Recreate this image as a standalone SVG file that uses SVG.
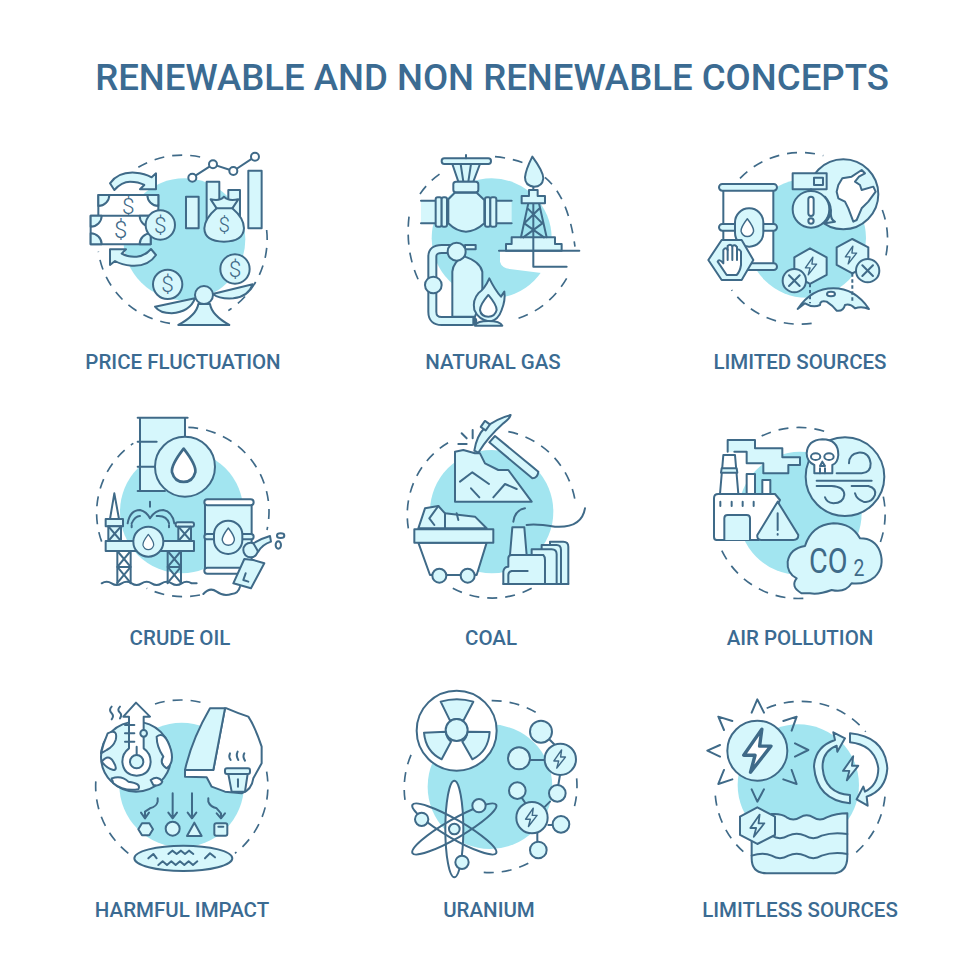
<svg xmlns="http://www.w3.org/2000/svg" width="980" height="980" viewBox="0 0 980 980">
<style>
.t{font-family:Roboto,"Liberation Sans",sans-serif;font-weight:500;fill:#3b6b92;text-anchor:middle}
.ti{font-size:36.6px}
.lb{font-size:20.5px}
.ic *{stroke-linejoin:round;stroke-linecap:round}
.ic{stroke:#3f6a88;stroke-width:6;fill:none}
.b{fill:#a2e5f0;stroke:none}
.l{fill:#d6f7fc}
.w{fill:#fff}
.ic .d{stroke-dasharray:30 24;stroke-width:5;stroke-linecap:butt}
.ds{font-family:Roboto,"Liberation Sans",sans-serif;font-weight:300;fill:#3f6a88;stroke:none;text-anchor:middle}
.co{font-family:Roboto,"Liberation Sans",sans-serif;font-weight:400;fill:#3f6a88;stroke:none}
</style>
<defs>
<path id="bolt" d="M8,-38 L-24,8 H-4 L-12,38 L24,-8 H4 Z"/>
<path id="drop" d="M0,-40 Q28,-4 26,12 Q20,34 0,34 Q-20,34 -26,12 Q-28,-4 0,-40Z"/>
<g id="x"><path d="M-16,-16 L16,16 M16,-16 L-16,16"/></g>
<g id="brace"><path d="M0,0 L40,48 M40,0 L0,48 M0,48 L40,96 M40,48 L0,96 M0,48 H40"/></g>
</defs>
<text class="t ti" x="492" y="90">RENEWABLE AND NON RENEWABLE CONCEPTS</text>

<g id="price-fluctuation" class="ic" transform="translate(80 140) scale(.3333)">
<circle class="b" cx="313" cy="298" r="183"/>
<path class="d" d="M175,82 A255,255 0 0 1 380,56 M560,270 A255,255 0 0 1 445,512 M270,550 A255,255 0 0 1 55,335"/>
<path class="l" d="M90,130 Q115,95 165,98 Q195,100 215,112 L228,100 V148 H180 L193,135 Q175,125 150,125 Q125,125 103,150Z"/>
<path class="l" d="M228,345 Q205,380 155,377 Q125,375 105,363 L90,375 V328 H138 L125,341 Q145,352 170,350 Q195,348 213,327Z"/>
<rect class="w" x="55" y="165" width="180" height="75"/>
<path class="l" d="M55,165 H88 A33,33 0 0 1 55,198Z M235,165 H202 A33,33 0 0 0 235,198Z"/>
<text class="ds" x="145" y="222" font-size="68">$</text>
<rect class="w" x="32" y="227" width="180" height="86"/>
<path class="l" d="M32,227 H65 A33,33 0 0 1 32,260Z M212,227 H179 A33,33 0 0 0 212,260Z M32,313 H65 A33,33 0 0 0 32,280Z M212,313 H179 A33,33 0 0 1 212,280Z"/>
<text class="ds" x="122" y="294" font-size="72">$</text>
<circle class="l" cx="241" cy="255" r="44"/><text class="ds" x="241" y="279" font-size="68">$</text>
<path d="M337,113 L399,73 L460,93 L525,50"/>
<circle class="w" cx="337" cy="113" r="12"/><circle class="w" cx="399" cy="73" r="12"/><circle class="w" cx="460" cy="93" r="12"/><circle class="w" cx="525" cy="50" r="12"/>
<rect class="l" x="318" y="170" width="38" height="95"/>
<rect class="l" x="380" y="125" width="38" height="130"/>
<rect class="l" x="445" y="150" width="35" height="80"/>
<rect class="l" x="505" y="92" width="40" height="173"/>
<path class="l" d="M410,205 L392,178 Q420,185 432,170 Q445,185 475,178 L457,205 Q492,235 492,265 Q490,305 432,305 Q374,305 373,265 Q375,235 410,205Z"/>
<path d="M410,205 H457"/>
<text class="ds" x="433" y="277" font-size="62">$</text>
<circle class="l" cx="465" cy="387" r="44"/><text class="ds" x="465" y="411" font-size="68">$</text>
<circle class="l" cx="263" cy="433" r="44"/><text class="ds" x="263" y="457" font-size="68">$</text>
<path class="l" d="M225,500 L345,475 Q330,515 275,520 Q240,520 225,500Z"/>
<path class="l" d="M398,462 L518,433 Q505,470 460,475 Q420,478 398,462Z"/>
<path class="l" d="M295,555 Q350,525 355,492 H390 Q395,525 448,555Z"/>
<circle class="l" cx="372" cy="465" r="27"/>
</g>

<g id="natural-gas" class="ic" transform="translate(395 140) scale(.3333)">
<circle class="b" cx="290" cy="295" r="180"/>
<path fill="#fff" stroke="none" d="M315,332 V365 Q320,385 350,388 L445,400 L480,400 V332Z"/>
<path class="d" d="M75,162 Q100,125 140,98 M300,50 Q350,55 390,70 M450,112 Q520,170 540,320 M515,415 Q460,510 355,540 M42,230 Q30,340 75,430"/>
<rect class="l" x="78" y="182" width="50" height="68" stroke="none"/>
<rect class="l" x="300" y="182" width="50" height="68" stroke="none"/>
<path d="M78,182 H125 M78,250 H125 M300,182 H350 M300,250 H350"/>
<path class="l" d="M172,72 L190,125 H235 L255,72Z"/>
<path d="M197,72 L205,125 M228,72 L220,125"/>
<rect class="l" x="140" y="55" width="148" height="17" rx="8"/>
<path d="M213,45 V55"/>
<path class="l" d="M160,178 L180,158 H245 L268,180 V250 Q240,275 213,275 Q185,275 160,250Z"/>
<rect class="l" x="175" y="125" width="75" height="32" rx="8"/>
<rect class="l" x="122" y="172" width="18" height="88" rx="6"/><rect class="l" x="140" y="172" width="16" height="88" rx="6"/>
<rect class="l" x="270" y="172" width="16" height="88" rx="6"/><rect class="l" x="286" y="172" width="18" height="88" rx="6"/>
<path class="l" d="M333,332 V312 H350 V292 H480 V312 H500 V332Z"/>
<path d="M312,332 H553 M415,140 V380 H515 M400,190 L378,292 M432,190 L455,292 M398,205 L442,250 L385,292 M434,205 L388,250 L447,292"/>
<path class="l" d="M380,168 H402 V150 H428 V168 H450 V190 H380Z"/>
<path class="l" d="M412,50 Q445,95 445,115 Q442,140 417,140 Q390,138 390,112 Q392,90 412,50Z"/>
<path d="M112,515 V350 Q112,327 140,327 H170 M232,543 H140 Q112,543 112,515" stroke-width="30"/>
<path d="M112,515 V350 Q112,327 140,327 H170 M232,543 H140 Q112,543 112,515" stroke="#d6f7fc" stroke-width="18" style="stroke-linecap:butt"/>
<path class="l" d="M172,530 V395 Q175,365 205,350 V328 H242 V315 H210 V350 Q255,365 262,395 V470 L240,530Z"/>
<circle class="l" cx="115" cy="435" r="25"/><circle class="l" cx="185" cy="335" r="27"/>
<path class="l" d="M283,415 Q300,450 318,470 L328,455 Q332,480 320,510 Q310,540 285,545 Q250,540 238,510 Q232,480 250,460 Q270,445 283,415Z"/>
<path class="w" d="M280,465 Q305,495 305,510 Q300,530 280,530 Q258,530 255,510 Q255,495 280,465Z"/>
<path class="l" d="M240,557 Q245,543 280,543 Q315,543 322,557Z"/>
</g>

<g id="limited-sources" class="ic" transform="translate(705 140) scale(.3333)">
<circle class="b" cx="305" cy="295" r="178"/>
<path class="d" d="M105,115 A253,253 0 0 1 355,47 M532,210 A253,253 0 0 1 540,360 M320,550 A253,253 0 0 1 80,450"/>
<rect class="w" x="55" y="150" width="150" height="235"/>
<rect class="l" x="42" y="132" width="174" height="20" rx="10"/>
<rect class="l" x="42" y="252" width="174" height="20" rx="10"/>
<rect class="l" x="42" y="370" width="174" height="20" rx="10"/>
<rect class="l" x="90" y="205" width="85" height="115" rx="42"/>
<use href="#drop" class="w" transform="translate(127 265) scale(.72)"/>
<path class="l" d="M10,360 L50,300 H110 L145,360 L110,420 H50Z"/>
<path class="w" d="M65,405 L38,365 Q42,355 55,370 V330 Q62,320 68,330 V318 Q75,310 82,318 V318 Q90,312 96,322 V330 Q103,325 108,335 V375 Q105,395 95,405Z"/>
<path d="M68,330 V360 M82,318 V360 M96,322 V360"/>
<circle class="l" cx="415" cy="163" r="105"/>
<path class="w" d="M400,135 L412,115 L440,110 L470,90 L480,100 L462,110 L450,125 L465,135 L470,150 L505,140 L512,155 L490,185 L470,205 L455,240 L445,245 L430,205 L420,185 L400,175 L395,155Z"/>
<rect class="l" x="263" y="100" width="102" height="48"/><rect class="l" x="327" y="113" width="27" height="22"/>
<path d="M318,148 V155"/>
<path class="l" d="M360,170 Q395,210 360,250 L390,245 Q375,240 378,210Z"/>
<circle class="l" cx="318" cy="208" r="55"/>
<rect class="w" x="310" y="170" width="16" height="58" rx="8"/><circle class="w" cx="318" cy="243" r="8"/>
<path class="l" d="M315,325 L365,352 V405 L315,432 L268,405 V352Z"/>
<use href="#bolt" transform="translate(318 378) scale(.7)"/>
<circle class="l" cx="268" cy="422" r="35"/><use href="#x" transform="translate(268 422)"/>
<path class="l" d="M442,297 L490,322 V375 L442,400 L395,375 V322Z"/>
<use href="#bolt" transform="translate(438 345) scale(.7)"/>
<circle class="l" cx="488" cy="392" r="35"/><use href="#x" transform="translate(488 392)"/>
<path class="l" d="M278,507 Q320,445 385,445 Q450,445 492,507 Q470,497 450,505 Q435,490 420,495 Q415,515 395,512 Q385,498 365,485 Q345,480 345,495 Q325,505 300,490Z"/>
<ellipse class="w" cx="378" cy="462" rx="12" ry="7"/>
<path d="M315,432 V490 M442,400 V490" stroke-dasharray="10 8" style="stroke-linecap:butt"/>
</g>

<g id="crude-oil" class="ic" transform="translate(85 410) scale(.3333)">
<circle class="b" cx="290" cy="305" r="185"/>
<path class="d" d="M310,52 A253,253 0 0 1 546,360 M50,395 A253,253 0 0 1 145,100 M345,555 A253,253 0 0 1 185,535"/>
<rect class="l" x="165" y="25" width="135" height="218" stroke="none"/>
<path d="M165,25 V243 M300,25 V100 M158,23 H308 M158,95 H215 M158,170 H215 M158,243 H240"/>
<circle class="l" cx="300" cy="170" r="90"/>
<use href="#drop" class="w" transform="translate(296 170) scale(1.35)"/>
<rect class="l" x="360" y="285" width="140" height="190"/>
<rect class="w" x="358" y="268" width="148" height="18" rx="9"/>
<rect class="w" x="358" y="473" width="148" height="18" rx="9"/>
<rect class="l" x="358" y="372" width="148" height="16" rx="8"/>
<rect class="l" x="387" y="332" width="85" height="100" rx="42"/>
<use href="#drop" class="w" transform="translate(430 382) scale(.7)"/>
<path class="w" d="M88,250 L75,327 H102Z"/>
<rect class="l" x="62" y="327" width="52" height="22"/>
<rect class="l" x="70" y="349" width="38" height="44"/><path d="M70,349 L108,393 M108,349 L70,393"/>
<rect class="l" x="272" y="337" width="55" height="13" rx="6"/>
<rect class="l" x="280" y="350" width="38" height="43"/><path d="M280,350 L318,393 M318,350 L280,393"/>
<use href="#brace" transform="translate(97 423)"/><path d="M97,423 V520 M137,423 V520 M248,423 V520 M288,423 V520"/>
<use href="#brace" transform="translate(248 423)"/>
<rect class="l" x="62" y="393" width="265" height="30"/>
<circle class="l" cx="190" cy="395" r="45"/><use href="#drop" class="w" transform="translate(190 398) scale(.62)"/>
<path d="M128,340 Q135,300 165,300 Q185,305 195,325 M140,340 Q150,318 165,318 M195,325 Q210,300 235,300 Q262,305 268,340 M215,318 Q245,315 252,340 M195,275 V290 M140,345 V352 M252,345 V352"/>
<path d="M50,520 Q65,510 80,520 T110,520 T140,520 T170,520 T200,520 T230,520 T260,520 T290,520 T320,520 L335,520"/>
<path d="M355,552 Q375,530 395,545 T440,552 Q460,550 465,530"/>
<path class="l" d="M445,520 L478,447 L505,450 L538,460 L498,535Z"/>
<path d="M482,490 L475,510 L490,515"/>
<circle class="l" cx="497" cy="420" r="22"/>
<path class="l" d="M505,400 Q530,385 555,378 L558,395 Q530,405 520,425Z"/>
<ellipse cx="587" cy="377" rx="11" ry="7"/><ellipse cx="580" cy="405" rx="8" ry="11"/>
</g>

<g id="coal" class="ic" transform="translate(395 410) scale(.3333)">
<circle class="b" cx="290" cy="305" r="185"/>
<path class="d" d="M340,65 A252,252 0 0 1 540,270 M40,355 A252,252 0 0 1 165,95 M410,535 A252,252 0 0 1 165,530"/>
<path class="l" d="M180,125 L205,120 L240,130 L255,130 L270,160 L310,180 L340,180 L410,275 H180Z"/>
<path d="M195,215 L232,187 L282,222 M228,235 L253,262 M295,262 L330,222 L365,237"/>
<path d="M200,70 L215,85 M233,60 V85 M190,102 H215"/>
<path class="l" d="M300,78 L430,185 Q428,205 412,205 L283,97Z"/>
<path class="l" d="M238,122 Q245,78 268,55 Q305,25 347,15 Q345,25 325,40 Q280,80 250,128Z"/>
<rect class="l" x="262" y="36" width="18" height="22" transform="rotate(35 271 47)"/>
<path class="w" d="M70,398 L105,495 H245 L275,398Z"/>
<path class="l" d="M70,355 L90,295 L130,288 L150,310 L240,320 L275,355Z"/>
<path d="M150,310 V355 M130,288 L103,325 L118,345 M185,310 L190,330"/>
<rect class="l" x="58" y="358" width="237" height="40"/>
<circle class="l" cx="133" cy="497" r="21"/><circle class="l" cx="218" cy="497" r="21"/>
<path class="l" d="M345,435 L352,352 H388 L395,435Z"/>
<path d="M355,335 Q360,300 390,295 M395,345 Q420,340 480,350 Q560,355 570,295"/>
<path class="l" d="M465,522 V395 H505 Q520,395 520,410 V522Z"/>
<path class="l" d="M440,522 V405 H485 Q498,405 498,420 V522Z"/>
<path class="l" d="M410,522 V418 H470 Q485,418 485,433 V522Z"/>
<path class="l" d="M325,522 V485 Q327,470 340,470 V445 Q340,435 350,435 H445 Q450,440 450,450 V522Z"/>
<path d="M340,522 V495 Q340,485 350,483 H398 M325,522 H520"/>
</g>

<g id="air-pollution" class="ic" transform="translate(705 420) scale(.3333)">
<circle class="b" cx="285" cy="280" r="185"/>
<path class="d" d="M170,48 A255,255 0 0 1 375,40 M535,230 A255,255 0 0 1 525,370 M295,535 A255,255 0 0 1 45,380"/>
<path class="l" d="M68,95 V60 H150 V85 H232 V112 H285 V135 H250 V160 H175 V130 H125 V95 H88"/>
<path class="w" d="M45,222 L55,105 H90 L100,222Z"/>
<path class="l" d="M50,145 H95 L97,158 H48Z"/>
<rect class="w" x="125" y="162" width="25" height="60"/>
<rect class="w" x="172" y="180" width="24" height="42"/>
<path class="w" d="M40,222 H210 L225,240 L160,360 H35 Q27,360 27,350 V235 Q27,222 40,222Z"/>
<path d="M46,245 V258 M80,245 V258 M113,245 V258 M146,245 V258"/>
<path class="l" d="M58,360 V295 Q58,285 68,285 H125 Q135,285 135,295 V360"/>
<path class="l" d="M218,245 L280,345 Q280,360 265,360 H170 Q155,360 157,345Z"/>
<path d="M218,280 V330 M218,342 V344"/>
<circle class="l" cx="420" cy="170" r="118"/>
<path class="w" d="M352,58 Q400,58 400,105 Q398,130 382,135 V160 H328 V135 Q305,125 305,100 Q308,60 352,58Z"/>
<ellipse cx="332" cy="110" rx="14" ry="10" class="w"/><ellipse cx="372" cy="110" rx="14" ry="10" class="w"/>
<path d="M352,125 L345,138 H360Z M345,145 V160 M360,145 V160"/>
<path d="M395,160 H470 Q498,158 497,130 Q492,95 460,98 Q432,102 432,130 M335,182 H500 M335,198 H380 Q418,200 418,225 Q415,250 385,250 Q365,248 360,232 M440,198 H490 Q515,205 510,225 Q500,250 475,245 Q455,238 450,220"/>
<path class="l" d="M290,520 Q255,500 275,475 Q245,460 248,425 Q255,385 300,378 Q320,315 385,310 Q440,310 465,355 Q510,355 525,395 Q540,440 510,470 Q480,495 440,490 Q420,520 380,510 Q340,525 315,520Z"/>
<text class="co" transform="translate(312 460) scale(.83 1)" font-size="104">CO<tspan dx="22" dy="7" font-size="70">2</tspan></text>
</g>

<g id="harmful-impact" class="ic" transform="translate(85 690) scale(.3333)">
<circle class="b" cx="290" cy="285" r="187"/>
<path class="d" d="M210,42 A255,255 0 0 1 365,42 M545,245 A255,255 0 0 1 450,490 M130,490 A255,255 0 0 1 35,250"/>
<circle class="l" cx="153" cy="200" r="105"/>
<path class="w" d="M68,130 Q100,115 92,150 Q85,170 65,180 L48,190 Q55,160 68,130Z M215,140 Q240,120 258,180 Q268,220 245,235 Q222,220 235,200 Q215,170 215,140Z M50,215 Q70,190 85,215 Q100,240 85,240 Q65,235 50,215Z M80,265 Q110,255 130,275 Q170,280 160,298 Q115,305 85,280Z M197,270 Q220,255 232,275 Q225,290 205,285Z"/>
<path class="w" d="M132,80 H115 L153,38 L195,80 H176 V175 Q197,190 197,215 Q195,255 155,257 Q115,255 112,215 Q112,190 132,175Z"/>
<circle class="l" cx="155" cy="215" r="20"/>
<path d="M155,170 V195 M120,105 H148 M120,130 H148 M120,155 H148"/>
<circle class="l" cx="176" cy="130" r="10"/>
<path d="M80,50 Q70,60 80,70 Q88,78 80,88 M105,50 Q95,60 105,68 Q112,75 105,85"/>
<path class="w" d="M425,55 Q460,70 490,80 Q510,110 530,170 V220 L505,265 Q500,300 470,310 L420,305 L380,290 L365,262 L300,260 L300,240 L385,240 L420,55Z"/>
<path class="l" d="M375,55 H420 L385,240 H300 Q320,150 375,55Z"/>
<path d="M435,190 Q430,200 437,210 M458,185 Q452,197 460,210 M478,190 Q472,200 480,212"/>
<rect class="l" x="420" y="235" width="75" height="17" rx="6"/>
<path class="l" d="M430,252 L440,305 H480 L488,252Z"/>
<path d="M459,268 V290"/>
<path d="M218,325 V335 Q215,350 195,355 L180,365 V385 M168,368 L180,385 L192,368 M263,310 V385 M250,368 L263,385 L276,368 M321,310 V385 M308,368 L321,385 L334,368 M370,325 V335 Q375,350 395,355 L408,370 V385 M395,370 L408,385 L420,370"/>
<path class="l" d="M160,418 L171,400 H193 L204,418 L193,436 H171Z"/>
<circle class="l" cx="263" cy="416" r="21"/>
<path class="l" d="M328,398 L350,438 H306Z"/>
<rect class="l" x="388" y="400" width="39" height="37" rx="6"/><path d="M400,410 H415"/>
<ellipse class="l" cx="295" cy="505" rx="147" ry="38"/>
<path d="M190,505 L205,492 L215,505 M250,492 L262,482 L275,492 L288,482 L300,492 L312,482 L325,492 M220,525 L233,514 L246,525 L259,514 L272,525 L285,514 L298,525 L311,514 L324,525 L337,514 M360,505 L375,490 L390,502"/>
</g>

<g id="uranium" class="ic" transform="translate(395 690) scale(.3333)">
<circle class="b" cx="285" cy="290" r="187"/>
<path class="d" d="M290,32 A255,255 0 0 1 435,75 M545,265 A255,255 0 0 1 537,355 M400,520 A255,255 0 0 1 245,545 M30,330 A255,255 0 0 1 55,180"/>
<circle class="w" cx="185" cy="122" r="120"/>
<path class="l" d="M137,35 Q185,20 235,35 L205,92 Q185,82 165,92Z"/>
<path class="l" d="M87,128 L152,125 Q155,145 168,155 L140,208 Q92,185 87,128Z"/>
<path class="l" d="M284,126 L218,125 Q215,145 202,155 L232,208 Q280,185 284,126Z"/>
<circle class="l" cx="185" cy="120" r="33"/>
<ellipse class="w" cx="178" cy="417" rx="27" ry="145"/>
<ellipse cx="178" cy="417" rx="145" ry="28" transform="rotate(30 178 417)"/>
<ellipse cx="178" cy="417" rx="145" ry="28" transform="rotate(-30 178 417)"/>
<circle class="l" cx="178" cy="417" r="16"/>
<circle class="l" cx="80" cy="388" r="20"/><circle class="l" cx="252" cy="347" r="20"/><circle class="l" cx="201" cy="517" r="20"/>
<path d="M465,150 L480,165 M405,210 H450 M495,255 L490,285 M378,320 L395,345 M465,335 L450,350 M460,405 H475 M427,430 V455"/>
<circle class="l" cx="438" cy="125" r="33"/><circle class="l" cx="372" cy="205" r="33"/>
<circle class="l" cx="496" cy="208" r="47"/><use href="#bolt" transform="translate(494 207) scale(.72)"/>
<circle class="l" cx="487" cy="310" r="25"/><circle class="l" cx="367" cy="302" r="25"/>
<circle class="l" cx="411" cy="383" r="47"/><use href="#bolt" transform="translate(409 382) scale(.72)"/>
<circle class="l" cx="498" cy="403" r="25"/><circle class="l" cx="430" cy="480" r="25"/>
</g>

<g id="limitless-sources" class="ic" transform="translate(700 690) scale(.3333)">
<circle class="b" cx="295" cy="285" r="182"/>
<path class="d" d="M200,55 A255,255 0 0 1 497,125 M555,320 A255,255 0 0 1 465,490 M130,485 A255,255 0 0 1 45,300"/>
<circle class="l" cx="172" cy="182" r="90"/>
<use href="#bolt" transform="translate(172 182) scale(1.7)" class="w"/>
<path d="M155,68 L172,28 L192,68 M55,80 L97,93 M55,80 L72,120 M250,93 L290,80 L275,122 M60,165 L22,182 L60,200 M285,160 L325,180 L285,200 M72,240 L55,282 L97,268 M250,268 L290,282 L275,240 M155,298 L172,335 L192,298"/>
<path class="l" d="M450,340 Q350,330 342,230 Q345,170 405,150 L400,127 L435,145 L412,185 L410,167 Q365,185 368,235 Q375,310 450,315Z"/>
<path class="l" d="M450,130 Q555,140 562,235 Q558,300 500,320 L503,347 L470,328 L490,290 L495,305 Q535,285 535,235 Q525,165 450,157Z"/>
<use href="#bolt" transform="translate(452 235) scale(.95)" class="l"/>
<path class="l" d="M155,430 V505 Q155,550 200,550 H395 Q442,550 442,500 V370 Q410,370 380,382 Q360,395 340,382 Q320,370 300,382 Q280,395 260,382 Q245,370 215,372 V430Z"/>
<path d="M155,437 Q190,425 215,437 Q240,452 265,437 Q290,425 315,437 Q340,452 365,437 Q400,425 442,432 M155,497 Q190,485 215,497 Q240,512 265,497 Q290,485 315,497 Q340,512 365,497 Q400,485 442,492"/>
<path class="l" d="M172,352 L225,380 V435 L172,462 L120,435 V380Z"/>
<use href="#bolt" transform="translate(172 407) scale(.88)"/>
</g>

<g id="labels">
<text class="t lb" x="183" y="369">PRICE FLUCTUATION</text>
<text class="t lb" x="493" y="369">NATURAL GAS</text>
<text class="t lb" x="800" y="369">LIMITED SOURCES</text>
<text class="t lb" x="180" y="645">CRUDE OIL</text>
<text class="t lb" x="491" y="645">COAL</text>
<text class="t lb" x="800" y="645">AIR POLLUTION</text>
<text class="t lb" x="182" y="917">HARMFUL IMPACT</text>
<text class="t lb" x="489" y="917">URANIUM</text>
<text class="t lb" x="800" y="917">LIMITLESS SOURCES</text>
</g>
</svg>
